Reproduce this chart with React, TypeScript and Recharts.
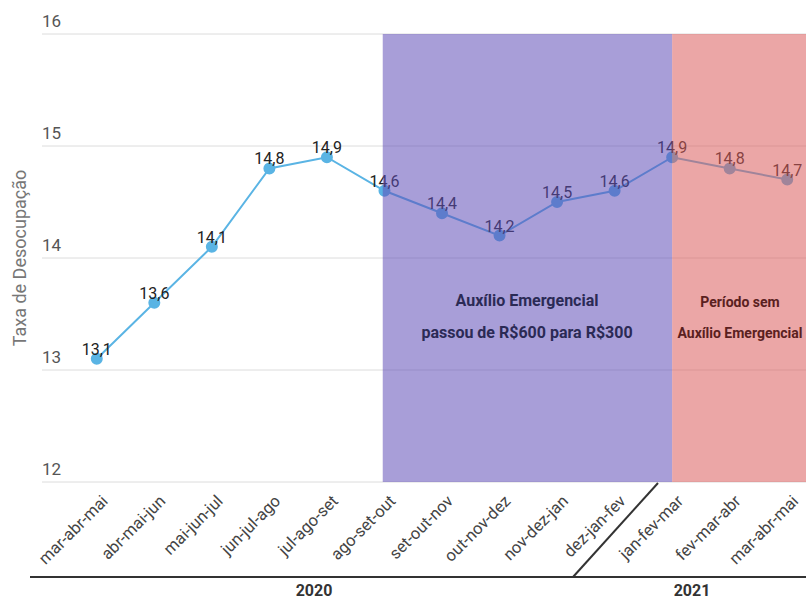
import React from "react";
import {
  LineChart,
  Line,
  XAxis,
  YAxis,
  CartesianGrid,
  ReferenceArea,
  LabelList,
} from "recharts";

const trimestres = [
  "mar-abr-mai",
  "abr-mai-jun",
  "mai-jun-jul",
  "jun-jul-ago",
  "jul-ago-set",
  "ago-set-out",
  "set-out-nov",
  "out-nov-dez",
  "nov-dez-jan",
  "dez-jan-fev",
  "jan-fev-mar",
  "fev-mar-abr",
  "mar-abr-mai",
];
const taxa = [13.1, 13.6, 14.1, 14.8, 14.9, 14.6, 14.4, 14.2, 14.5, 14.6, 14.9, 14.8, 14.7];
const yTicks = [12, 13, 14, 15, 16];
const anos = ["2020", "2021"];

const data = trimestres.map((nome, i) => ({ i, nome, taxa: taxa[i] }));
const xTicks = trimestres.map((_, i) => i);

const FONT = "Roboto, 'Noto Sans', sans-serif";

const XTick = ({ x, y, payload }: any) => (
  <g transform={`translate(${x + 8},${y + 8})`}>
    <text
      transform="rotate(-45)"
      textAnchor="end"
      dy="0.35em"
      fontSize={16.5}
      fill="#444"
      fontFamily={FONT}
    >
      {trimestres[payload.value]}
    </text>
  </g>
);

const YTick = ({ y, payload }: any) => (
  <text x={42} y={y - 7} fontSize={17} fill="#555" fontFamily={FONT}>
    {payload.value}
  </text>
);

const fmt = (v: any) => String(v).replace(".", ",");

export default function App() {
  return (
    <div
      style={{
        position: "absolute",
        left: 0,
        top: 0,
        width: 806,
        height: 601,
        overflow: "hidden",
        background: "#fff",
      }}
    >
      <LineChart
        width={816}
        height={601}
        data={data}
        margin={{ top: 34, right: 0, bottom: 0, left: 41 }}
      >
        <CartesianGrid vertical={false} stroke="#dcdcdc" />
        <XAxis
          type="number"
          dataKey="i"
          domain={[-0.952, 12.5]}
          ticks={xTicks}
          interval={0}
          allowDataOverflow
          axisLine={false}
          tickLine={false}
          height={119}
          tick={<XTick />}
        />
        <YAxis
          domain={[12, 16]}
          ticks={yTicks}
          interval={0}
          width={1}
          axisLine={false}
          tickLine={false}
          tick={<YTick />}
        />
        <Line
          type="linear"
          dataKey="taxa"
          stroke="#5ab4e4"
          strokeWidth={2}
          dot={{ r: 5, fill: "#5ab4e4", stroke: "#5ab4e4" }}
          isAnimationActive={false}
        >
          <LabelList
            dataKey="taxa"
            position="top"
            offset={4}
            formatter={fmt}
            fontSize={16}
            fill="#222"
            fontFamily={FONT}
          />
        </Line>
        <ReferenceArea
          x1={4.97}
          x2={10}
          y1={12}
          y2={16}
          fill="#604eb8"
          fillOpacity={0.55}
          stroke="none"
          zIndex={2500}
        />
        <ReferenceArea
          x1={10}
          x2={12.5}
          y1={12}
          y2={16}
          fill="#da5d5d"
          fillOpacity={0.55}
          stroke="none"
          zIndex={2500}
        />
      </LineChart>
      <svg
        width={806}
        height={601}
        style={{ position: "absolute", left: 0, top: 0, pointerEvents: "none" }}
        fontFamily={FONT}
      >
        <text
          transform="translate(26,258) rotate(-90)"
          textAnchor="middle"
          fontSize={18}
          fill="#777"
        >
          Taxa de Desocupação
        </text>
        <g fontWeight="bold" textAnchor="middle">
          <text x={527} y={306} fontSize={16} fill="#2b2a55">Auxílio Emergencial</text>
          <text x={527} y={338} fontSize={16} fill="#2b2a55">passou de R$600 para R$300</text>
          <text x={740} y={307} fontSize={14} fill="#5a2020">Período sem</text>
          <text x={740} y={338} fontSize={14} fill="#5a2020">Auxílio Emergencial</text>
        </g>
        <line x1={30} y1={577} x2={806} y2={577} stroke="#333" strokeWidth={2} />
        <line x1={573} y1={577} x2={658} y2={483} stroke="#333" strokeWidth={2} />
        <g fontSize={16} fontWeight="bold" fill="#333" textAnchor="middle">
          <text x={314} y={596}>{anos[0]}</text>
          <text x={692} y={596}>{anos[1]}</text>
        </g>
      </svg>
    </div>
  );
}
